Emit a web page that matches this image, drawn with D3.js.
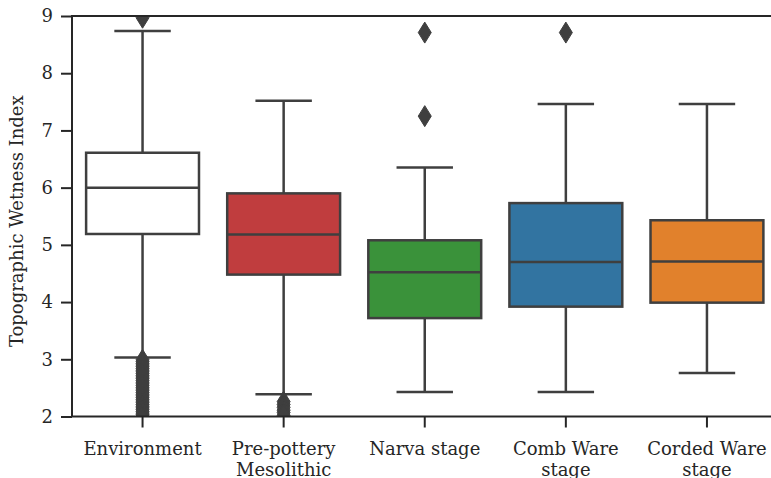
<!DOCTYPE html>
<html><head><meta charset="utf-8">
<script src="https://cdn.jsdelivr.net/npm/d3@7"></script>
<style>
body{margin:0;background:#fff;}
text{font-family:"DejaVu Serif",serif;fill:#262626;}
</style></head>
<body><svg id="c" width="771" height="478"></svg>
<script>
const categories = ["Environment", "Pre-pottery\nMesolithic", "Narva stage", "Comb Ware\nstage", "Corded Ware\nstage"];
const colors = ["#ffffff", "#c03d3e", "#3a923a", "#3274a1", "#e1812c"];
const whiskerLow = [3.03, 2.39, 2.43, 2.43, 2.76];
const q1 = [5.19, 4.48, 3.72, 3.92, 3.99];
const median = [6.00, 5.18, 4.52, 4.70, 4.71];
const q3 = [6.61, 5.90, 5.08, 5.73, 5.43];
const whiskerHigh = [8.74, 7.52, 6.35, 7.46, 7.46];
const outliersEnvironment = [8.97, 9.02, 9.10, 9.25, 2.99, 2.96, 2.93, 2.90, 2.87, 2.84, 2.81, 2.78, 2.75, 2.72, 2.69, 2.66, 2.63, 2.60, 2.57, 2.54, 2.51, 2.48, 2.45, 2.42, 2.39, 2.36, 2.33, 2.30, 2.27, 2.24, 2.21, 2.18, 2.15, 2.12, 2.09, 2.06, 2.03, 2.00, 1.97, 1.94];
const outliersPrePottery = [2.26, 2.21, 2.16, 2.11, 2.07, 2.02];
const outliersNarva = [8.71, 7.25];
const outliersComb = [8.71];
const outliersCorded = [];
const outliers = [outliersEnvironment, outliersPrePottery, outliersNarva, outliersComb, outliersCorded];
const yTicks = [2, 3, 4, 5, 6, 7, 8, 9];

const svg = d3.select("#c");
const L = 72, R = 777.5, T = 16, B = 416.5;
const x = d3.scaleBand().domain(categories).range([L, R]).padding(0);
const y = d3.scaleLinear().domain([2, 9]).range([B, T]);
const gray = "#3f3f3f";
const FS = 18;

svg.append("clipPath").attr("id", "clip").append("rect")
  .attr("x", L).attr("y", T).attr("width", R - L).attr("height", B - T);

const g = svg.append("g").attr("clip-path", "url(#clip)");
const bw = x.bandwidth() * 0.8;

categories.forEach((c, i) => {
  const cx = x(c) + x.bandwidth() / 2;
  g.append("line").attr("x1", cx).attr("x2", cx).attr("y1", y(q3[i])).attr("y2", y(whiskerHigh[i]))
    .attr("stroke", gray).attr("stroke-width", 2.5);
  g.append("line").attr("x1", cx).attr("x2", cx).attr("y1", y(q1[i])).attr("y2", y(whiskerLow[i]))
    .attr("stroke", gray).attr("stroke-width", 2.5);
  [whiskerHigh[i], whiskerLow[i]].forEach(v => {
    g.append("line").attr("x1", cx - bw / 4).attr("x2", cx + bw / 4).attr("y1", y(v)).attr("y2", y(v))
      .attr("stroke", gray).attr("stroke-width", 2.5);
  });
  g.append("rect").attr("x", cx - bw / 2).attr("width", bw)
    .attr("y", y(q3[i])).attr("height", y(q1[i]) - y(q3[i]))
    .attr("fill", colors[i]).attr("stroke", gray).attr("stroke-width", 2.5);
  g.append("line").attr("x1", cx - bw / 2).attr("x2", cx + bw / 2).attr("y1", y(median[i])).attr("y2", y(median[i]))
    .attr("stroke", gray).attr("stroke-width", 2.5);
  outliers[i].forEach(v => {
    const py = y(v), hw = 6.5, hh = 10.5;
    g.append("path").attr("d", `M${cx},${py - hh}L${cx + hw},${py}L${cx},${py + hh}L${cx - hw},${py}Z`)
      .attr("fill", gray).attr("stroke", gray).attr("stroke-width", 1);
  });
});

const yAxis = svg.append("g").attr("transform", `translate(${L},0)`)
  .call(d3.axisLeft(y).tickValues(yTicks).tickSize(11).tickPadding(8).tickFormat(d3.format("d")));
yAxis.select(".domain").remove();
yAxis.selectAll(".tick line").attr("stroke", "#262626").attr("stroke-width", 2);
yAxis.selectAll(".tick text").attr("font-size", FS).attr("font-family", "DejaVu Serif").attr("fill", "#262626");

const xAxis = svg.append("g").attr("transform", `translate(0,${B})`)
  .call(d3.axisBottom(x).tickSize(11).tickFormat(""));
xAxis.select(".domain").remove();
xAxis.selectAll(".tick line").attr("stroke", "#262626").attr("stroke-width", 2);
xAxis.selectAll(".tick").each(function(d) {
  const lines = d.split("\n");
  const t = d3.select(this).append("text").attr("text-anchor", "middle").attr("font-size", FS)
    .attr("font-family", "DejaVu Serif").attr("fill", "#262626");
  lines.forEach((ln, k) => t.append("tspan").attr("x", 0).attr("y", 38 + k * 21).text(ln));
});

svg.append("rect").attr("x", L).attr("y", T).attr("width", R - L).attr("height", B - T)
  .attr("fill", "none").attr("stroke", "#262626").attr("stroke-width", 2);

svg.append("text").attr("transform", `translate(23,${(T + B) / 2 + 5}) rotate(-90)`)
  .attr("text-anchor", "middle").attr("font-size", FS).text("Topographic Wetness Index");
</script></body></html>
